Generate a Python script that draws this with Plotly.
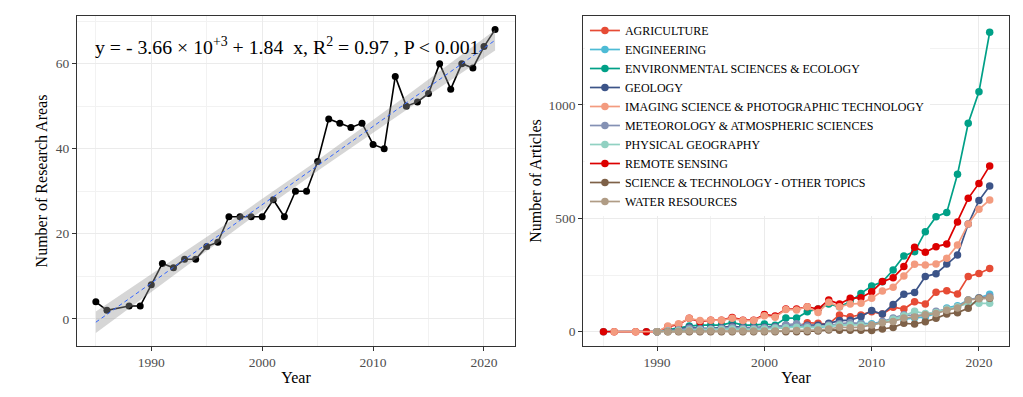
import numpy as np
import plotly.graph_objects as go

# ---------------- data ----------------
YEARS = list(range(1985, 2022))

RESEARCH_AREAS = [4, 2, None, 3, 3, 8, 13, 12, 14, 14, 17, 18, 24, 24, 24, 24, 28, 24, 30, 30,
                  37, 47, 46, 45, 46, 41, 40, 57, 50, 51, 53, 60, 54, 60, 59, 64, 68]

AGRICULTURE = [None]*5 + [0, 5, 8, 12, 10, 10, 12, 15, 12, 15,
                          18, 15, 20, 22, 40, 37, 34, 74, 66, 74,
                          88, 78, 108, 100, 132, 122, 174, 181, 166, 243,
                          257, 279]
ENGINEERING = [0, None, None, None, 0] + [0, 3, 5, 8, 8, 10, 12, 15, 12, 12,
                                          15, 18, 20, 22, 20, 18, 25, 30, 35, 38,
                                          35, 45, 55, 55, 60, 65, 80, 105, 115, 140,
                                          150, 165]
ENVIRONMENTAL = [None]*5 + [0, 8, 15, 25, 29, 29, 29, 41, 29, 29,
                            34, 29, 60, 60, 88, 100, 122, 110, 132, 169,
                            201, 220, 272, 334, 353, 441, 507, 526, 694, 919,
                            1058, 1320]
GEOLOGY = [None]*5 + [0, 5, 10, 20, 15, 15, 18, 25, 18, 18,
                      20, 22, 29, 32, 29, 29, 37, 49, 51, 66,
                      93, 78, 120, 165, 173, 243, 256, 298, 338, 475,
                      578, 643]
IMAGING = [None, 0, None, 0, None] + [0, 25, 35, 59, 49, 51, 51, 59, 49, 49,
                                      70, 64, 98, 96, 110, 85, 130, 110, 122, 125,
                                      147, 179, 196, 246, 297, 294, 299, 324, 382, 475,
                                      540, 581]
METEOROLOGY = [None]*5 + [0, 3, 8, 15, 12, 12, 15, 20, 15, 15,
                          18, 20, 30, 35, 25, 22, 30, 35, 40, 35,
                          30, 45, 60, 75, 70, 75, 90, 100, 110, 140,
                          150, 155]
PHYSICAL_GEO = [None]*5 + [0, 2, 5, 8, 8, 10, 10, 12, 10, 10,
                           12, 15, 18, 20, 18, 20, 25, 30, 30, 28,
                           30, 40, 55, 70, 90, 80, 85, 100, 110, 125,
                           125, 125]
REMOTE_SENSING = [0, 0, None, 0, 0] + [0, 22, 32, 59, 44, 51, 51, 63, 51, 51,
                                       76, 69, 100, 100, 110, 100, 140, 122, 147, 150,
                                       176, 221, 238, 287, 372, 350, 375, 387, 484, 588,
                                       654, 731]
SCI_TECH = [None]*6 + [0, 0, 0, 0, 0, 0, 0, 0, 0,
                       0, 0, 0, 0, 0, 3, 8, 6, 6, 6,
                       5, 12, 19, 37, 34, 44, 59, 78, 84, 103,
                       148, 147]
WATER = [None]*5 + [0, 0, 2, 3, 3, 3, 3, 3, 3, 3,
                    3, 3, 5, 5, 5, 8, 12, 20, 18, 20,
                    30, 40, 45, 60, 65, 75, 80, 95, 105, 140,
                    145, 150]

SERIES_NAMES = ["AGRICULTURE", "ENGINEERING", "ENVIRONMENTAL SCIENCES & ECOLOGY", "GEOLOGY",
                "IMAGING SCIENCE & PHOTOGRAPHIC TECHNOLOGY", "METEOROLOGY & ATMOSPHERIC SCIENCES",
                "PHYSICAL GEOGRAPHY", "REMOTE SENSING", "SCIENCE & TECHNOLOGY - OTHER TOPICS",
                "WATER RESOURCES"]
SERIES_VALUES = [AGRICULTURE, ENGINEERING, ENVIRONMENTAL, GEOLOGY, IMAGING, METEOROLOGY,
                 PHYSICAL_GEO, REMOTE_SENSING, SCI_TECH, WATER]
COLORS = ["#E64B35", "#4DBBD5", "#00A087", "#3C5488", "#F39B7F", "#8491B4",
          "#91D1C2", "#DC0000", "#7E6148", "#B09C85"]

EQUATION = "y = - 3.66 × 10<sup>+3</sup> + 1.84  x, R<sup>2</sup> = 0.97 , P < 0.001"

FONT = "Liberation Serif"

# ---------------- figure ----------------
fig = go.Figure()

# left panel: observed series
fig.add_trace(go.Scatter(x=YEARS, y=RESEARCH_AREAS, mode="lines+markers",
                         line=dict(color="black", width=1.6), marker=dict(color="black", size=7),
                         connectgaps=True, showlegend=False, xaxis="x", yaxis="y"))

# linear fit with 95% confidence band (computed from the data)
xs = np.array([x for x, y in zip(YEARS, RESEARCH_AREAS) if y is not None], dtype=float)
ys = np.array([y for y in RESEARCH_AREAS if y is not None], dtype=float)
slope, intercept = np.polyfit(xs, ys, 1)
n = len(xs)
resid = ys - (intercept + slope * xs)
s = np.sqrt(np.sum(resid ** 2) / (n - 2))
xm = xs.mean()
sxx = np.sum((xs - xm) ** 2)
tval = 2.032
xg = np.linspace(xs.min(), xs.max(), 80)
yg = intercept + slope * xg
se = s * np.sqrt(1.0 / n + (xg - xm) ** 2 / sxx)
fig.add_trace(go.Scatter(x=xg, y=yg + tval * se, mode="lines", line=dict(width=0),
                         showlegend=False, hoverinfo="skip", xaxis="x", yaxis="y"))
fig.add_trace(go.Scatter(x=xg, y=yg - tval * se, mode="lines", line=dict(width=0),
                         fill="tonexty", fillcolor="rgba(153,153,153,0.4)",
                         showlegend=False, hoverinfo="skip", xaxis="x", yaxis="y"))
fig.add_trace(go.Scatter(x=xg, y=yg, mode="lines",
                         line=dict(color="#3366FF", width=1, dash="4px,3px"),
                         showlegend=False, xaxis="x", yaxis="y"))

# right panel: series (draw order puts imaging above remote sensing)
draw_order = [0, 1, 2, 3, 7, 4, 5, 6, 8, 9]
for i in draw_order:
    fig.add_trace(go.Scatter(x=YEARS, y=SERIES_VALUES[i], name=SERIES_NAMES[i],
                             mode="lines+markers", connectgaps=True,
                             line=dict(color=COLORS[i], width=1.7),
                             marker=dict(color=COLORS[i], size=7.5),
                             legendrank=i + 1, xaxis="x2", yaxis="y2"))

axis_common = dict(
    showline=True, mirror=True, linecolor="#333333", linewidth=1,
    ticks="outside", ticklen=4, tickcolor="#333333", tickwidth=1,
    showgrid=True, gridcolor="#EBEBEB", gridwidth=1, zeroline=False,
    automargin=False,
    tickfont=dict(family=FONT, size=13.5, color="#4D4D4D"),
)

# the page body adds an 8px offset, so the figure is 8px smaller and margins compensate
fig.update_layout(
    width=1015, height=389,
    paper_bgcolor="white", plot_bgcolor="white",
    margin=dict(l=69, r=14, t=8, b=51),
    font=dict(family=FONT, color="black"),
    xaxis=dict(domain=[0, 0.470], range=[1983.3, 2022.8], dtick=10, tick0=1990,
               minor=dict(dtick=5, tick0=1985, showgrid=True, gridcolor="#F2F2F2", ticks=""),
               title=dict(text="Year", font=dict(family=FONT, size=16), standoff=2),
               anchor="y", **axis_common),
    yaxis=dict(domain=[0, 1], range=[-6.4, 71.2], dtick=20, tick0=0,
               minor=dict(dtick=10, showgrid=True, gridcolor="#F2F2F2", ticks=""),
               title=dict(text="Number of Research Areas", font=dict(family=FONT, size=16), standoff=4),
               anchor="x", **axis_common),
    xaxis2=dict(domain=[0.543, 1.0], range=[1983.1, 2022.8], dtick=10, tick0=1990,
                minor=dict(dtick=5, tick0=1985, showgrid=True, gridcolor="#F2F2F2", ticks=""),
                title=dict(text="Year", font=dict(family=FONT, size=16), standoff=2),
                anchor="y2", **axis_common),
    yaxis2=dict(domain=[0, 1], range=[-63, 1392], dtick=500, tick0=0,
                minor=dict(dtick=250, showgrid=True, gridcolor="#F2F2F2", ticks=""),
                title=dict(text="Number of Articles", font=dict(family=FONT, size=16), standoff=2),
                anchor="x2", **axis_common),
    legend=dict(x=0.545, y=1.0, xanchor="left", yanchor="top", traceorder="normal",
                bgcolor="white", font=dict(family=FONT, size=12, color="black"),
                itemwidth=30, tracegroupgap=0),
    showlegend=True,
    annotations=[dict(text=EQUATION, xref="x domain", yref="y domain", x=0.479, y=0.91,
                      showarrow=False, font=dict(family=FONT, size=19.8, color="black"),
                      xanchor="center", yanchor="middle")],
)

fig.write_html("out.html")
